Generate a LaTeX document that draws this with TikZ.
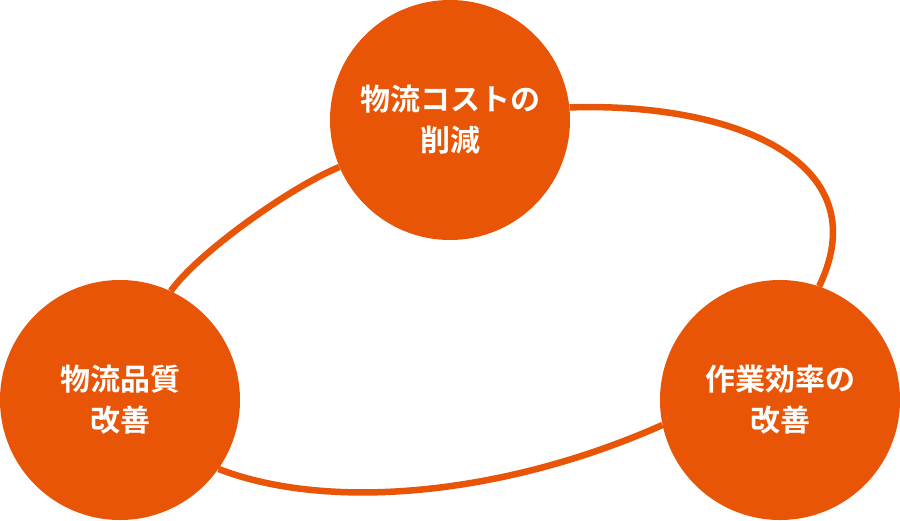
\documentclass[tikz,border=0pt]{standalone}
\usepackage{fontspec}
\newfontfamily\jpbold{Noto Sans CJK JP Bold}
\definecolor{brandorange}{RGB}{233,85,6}
\begin{document}
\begin{tikzpicture}[x=1pt,y=-1pt,
  hub/.style={circle, fill=brandorange, draw=none, minimum size=240pt, inner sep=0pt,
    text=white, align=center, font=\jpbold\fontsize{30}{41}\selectfont},
  loopline/.style={draw=brandorange, line width=6.5pt}]
\useasboundingbox (0,0) rectangle (900,520);
\coordinate (topc) at (450,120);
\coordinate (leftc) at (120,400);
\coordinate (rightc) at (780,400);
% invisible nodes for anchors first (same geometry)
\path (topc) node[circle, minimum size=240pt, inner sep=0pt] (top) {};
\path (leftc) node[circle, minimum size=240pt, inner sep=0pt] (left) {};
\path (rightc) node[circle, minimum size=240pt, inner sep=0pt] (right) {};
\draw[loopline] (top.6) .. controls (730,102) and (880,160) .. (right.71);
\draw[loopline] (right.192) .. controls (505,495) and (330,512) .. (left.-35);
\draw[loopline] (left.65) .. controls (197,254) and (288,188.5) .. (top.203);
\node[hub] (topn) at (topc) {物流コストの\\削減};
\node[hub] (leftn) at (leftc) {物流品質\\改善};
\node[hub] (rightn) at (rightc) {作業効率の\\改善};
\end{tikzpicture}
\end{document}
